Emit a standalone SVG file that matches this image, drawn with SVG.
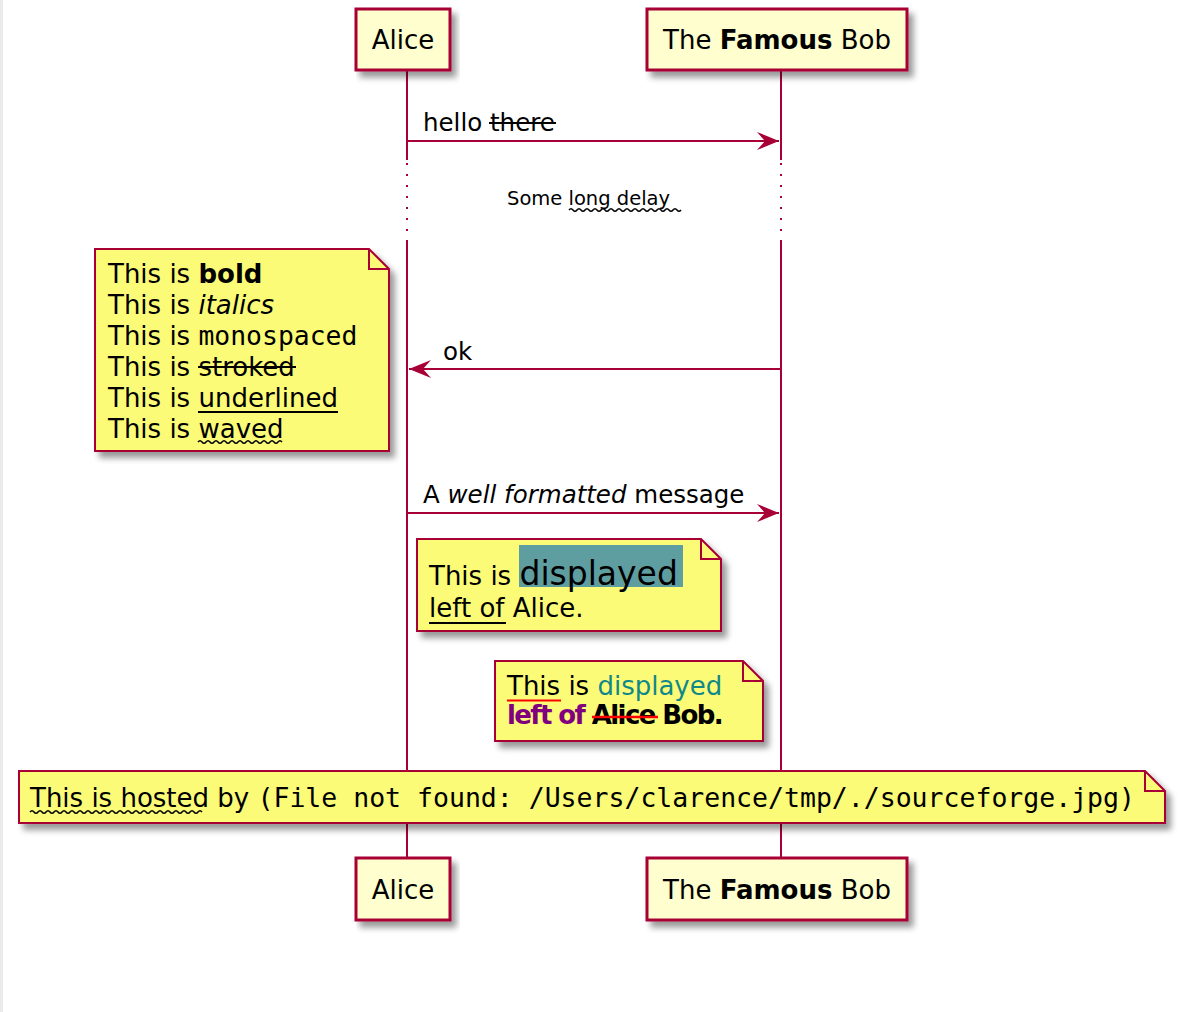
<svg xmlns="http://www.w3.org/2000/svg" width="1180" height="1012" viewBox="0 0 1180 1012">
<defs>
<style>
.t{font-family:"DejaVu Sans","Liberation Sans",sans-serif;fill:#000}
.m{font-family:"DejaVu Sans Mono","Liberation Mono",monospace}
.b{font-weight:bold}
.i{font-style:italic}
.part{fill:#FEFECE;stroke:#A80036;stroke-width:3}
.note{fill:#FBFB77;stroke:#A80036;stroke-width:2}
.fold{fill:none;stroke:#A80036;stroke-width:2}
.life{stroke:#A80036;stroke-width:2;fill:none}
.dot{stroke:#A80036;stroke-width:2;stroke-dasharray:2 9;fill:none}
.msg{stroke:#A80036;stroke-width:2;fill:none;marker-end:url(#ah)}
.deco{stroke:#000;stroke-width:2;fill:none}
.wave{stroke:#000;stroke-width:1.5;fill:none}
</style>
<filter id="sh" x="-5%" y="-10%" width="115%" height="140%">
<feGaussianBlur in="SourceAlpha" stdDeviation="3"/>
<feOffset dx="5" dy="6" result="o"/>
<feComponentTransfer><feFuncA type="linear" slope="0.4"/></feComponentTransfer>
<feMerge><feMergeNode/><feMergeNode in="SourceGraphic"/></feMerge>
</filter>
<marker id="ah" markerWidth="24" markerHeight="20" refX="22" refY="9" orient="auto" markerUnits="userSpaceOnUse">
<path d="M0,0 L22,9 L0,18 L8,9 Z" fill="#A80036"/>
</marker>
</defs>
<rect x="0" y="0" width="1180" height="1012" fill="#fff"/>
<rect x="0" y="0" width="3" height="1012" fill="#ebebeb"/>

<g id="lifelines">
<path class="life" d="M407,70 V160 M407,240 V858"/>
<path class="dot" d="M407,163 V240"/>
<path class="life" d="M781,70 V160 M781,240 V858"/>
<path class="dot" d="M781,163 V240"/>
</g>

<g id="alice-top">
<rect class="part" x="356" y="9" width="94" height="61" filter="url(#sh)"/>
<text class="t" x="403" y="49" font-size="26" text-anchor="middle">Alice</text>
</g>
<g id="bob-top">
<rect class="part" x="647" y="9" width="260" height="61" filter="url(#sh)"/>
<text class="t" x="777" y="49" font-size="26" text-anchor="middle">The <tspan class="b">Famous</tspan> Bob</text>
</g>
<g id="alice-bottom">
<rect class="part" x="356" y="858" width="94" height="62" filter="url(#sh)"/>
<text class="t" x="403" y="899" font-size="26" text-anchor="middle">Alice</text>
</g>
<g id="bob-bottom">
<rect class="part" x="647" y="858" width="260" height="62" filter="url(#sh)"/>
<text class="t" x="777" y="899" font-size="26" text-anchor="middle">The <tspan class="b">Famous</tspan> Bob</text>
</g>

<g id="delay">
<text class="t" x="507" y="205" font-size="19.5">Some long delay</text>
<path class="wave" stroke-width="1.2" d="M569,210 q2,-2.5 4,0 t4,0 t4,0 t4,0 t4,0 t4,0 t4,0 t4,0 t4,0 t4,0 t4,0 t4,0 t4,0 t4,0 t4,0 t4,0 t4,0 t4,0 t4,0 t4,0 t4,0 t4,0 t4,0 t4,0 t4,0 t4,0 t4,0 t4,0"/>
</g>

<g id="note-left">
<path class="note" d="M95,249 H369 L389,269 V451 H95 Z" filter="url(#sh)"/>
<path class="fold" d="M369,249 V269 H389"/>
<text class="t" font-size="26">
<tspan x="108" y="283">This is <tspan class="b">bold</tspan></tspan>
<tspan x="108" y="314">This is <tspan class="i">italics</tspan></tspan>
<tspan x="108" y="345">This is <tspan class="m" font-size="26.4">monospaced</tspan></tspan>
<tspan x="108" y="376">This is stroked</tspan>
<tspan x="108" y="407">This is underlined</tspan>
<tspan x="108" y="438">This is waved</tspan>
</text>
<line class="deco" x1="198" y1="367" x2="296" y2="367"/>
<line class="deco" x1="198" y1="412" x2="338" y2="412"/>
<path class="wave" d="M198,442 q2,-2.5 4,0 t4,0 t4,0 t4,0 t4,0 t4,0 t4,0 t4,0 t4,0 t4,0 t4,0 t4,0 t4,0 t4,0 t4,0 t4,0 t4,0 t4,0 t4,0 t4,0 t4,0"/>
</g>

<g id="note-alice">
<path class="note" d="M417,539 H701 L721,559 V631 H417 Z" filter="url(#sh)"/>
<path class="fold" d="M701,539 V559 H721"/>
<rect x="519" y="545" width="164" height="42" fill="#5F9EA0"/>
<text class="t" font-size="26">
<tspan x="429" y="585">This is <tspan font-size="33">displayed</tspan></tspan>
<tspan x="429" y="617">left of Alice.</tspan>
</text>
<line class="deco" x1="429" y1="623" x2="506" y2="623"/>
</g>

<g id="note-bob">
<path class="note" d="M495,661 H743 L763,681 V741 H495 Z" filter="url(#sh)"/>
<path class="fold" d="M743,661 V681 H763"/>
<text class="t" font-size="26">
<tspan x="507" y="695">This is <tspan fill="#118888">displayed</tspan></tspan>
<tspan x="507" y="724" class="b" letter-spacing="-1.6"><tspan fill="#800080">left of</tspan> Alice Bob.</tspan>
</text>
<line x1="507" y1="700.5" x2="561" y2="700.5" stroke="#FF0000" stroke-width="2"/>
<line x1="592" y1="717" x2="658" y2="717" stroke="#FF0000" stroke-width="2.5"/>
</g>

<g id="note-hosted">
<path class="note" d="M19,771 H1145 L1165,791 V823 H19 Z" filter="url(#sh)"/>
<path class="fold" d="M1145,771 V791 H1165"/>
<text class="t" font-size="26" x="30" y="807">This is hosted by <tspan class="m" font-size="26.5">(File not found: /Users/clarence/tmp/./sourceforge.jpg)</tspan></text>
<path class="wave" stroke="#FF33FF" d="M30,812 q2,-2.5 4,0 t4,0 t4,0 t4,0 t4,0 t4,0 t4,0 t4,0 t4,0 t4,0 t4,0 t4,0 t4,0 t4,0 t4,0 t4,0 t4,0 t4,0 t4,0 t4,0 t4,0 t4,0 t4,0 t4,0 t4,0 t4,0 t4,0 t4,0 t4,0 t4,0 t4,0 t4,0 t4,0 t4,0 t4,0 t4,0 t4,0 t4,0 t4,0 t4,0 t4,0 t4,0 t4,0"/>
</g>

<g id="connectors">
<line class="msg" x1="407" y1="141" x2="779" y2="141"/>
<text class="t" x="423" y="131" font-size="24.5">hello there</text>
<line class="deco" x1="489" y1="123" x2="556" y2="123"/>
<line class="msg" x1="781" y1="369" x2="409" y2="369"/>
<text class="t" x="443" y="360" font-size="24.5">ok</text>
<line class="msg" x1="407" y1="513" x2="779" y2="513"/>
<text class="t" x="423" y="503" font-size="24.5">A <tspan class="i">well formatted</tspan> message</text>
</g>
</svg>
